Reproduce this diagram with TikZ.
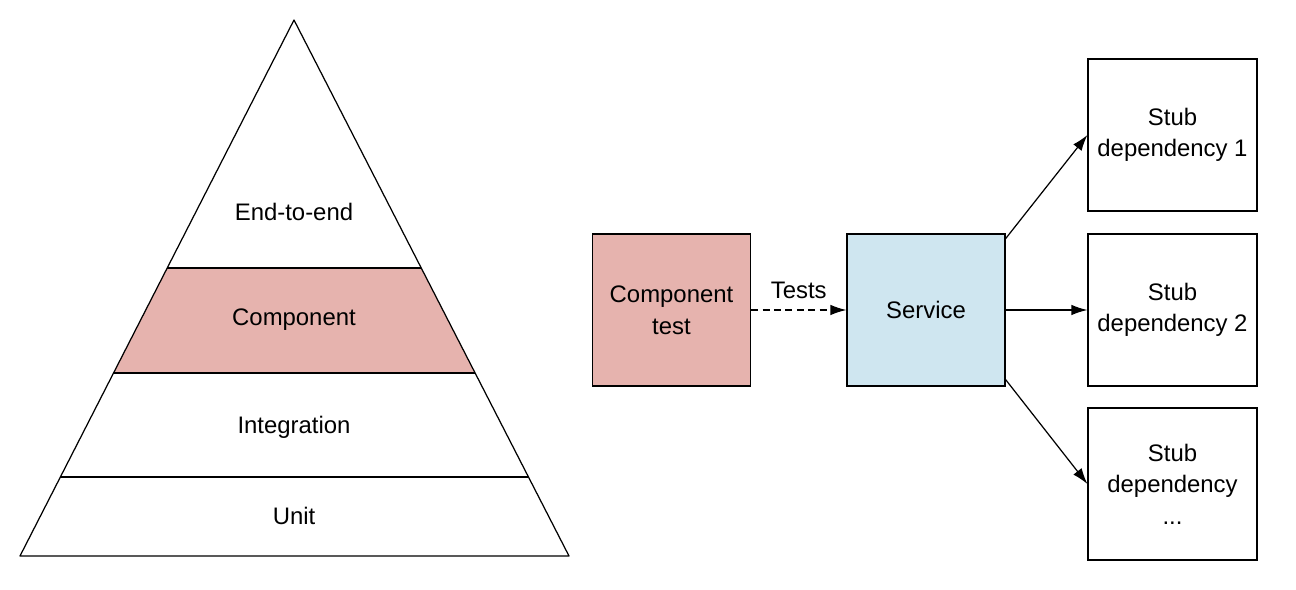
\documentclass[tikz,border=0pt]{standalone}
\usepackage{fontspec}
\setmainfont{Liberation Sans}
\usetikzlibrary{arrows.meta}
\definecolor{comppink}{HTML}{E6B3AE}
\definecolor{svcblue}{HTML}{CFE6F0}
\tikzset{
        x=0.02cm, y=-0.02cm,
        every node/.style={font=\fontsize{13.6}{18}\selectfont, align=center},
        layer/.style={draw=black, line width=0.7pt, line join=round},
        box/.style={draw=black, line width=0.7pt, inner sep=0pt, minimum width=3.16cm, minimum height=3.04cm},
        stubbox/.style={box, minimum width=3.38cm, fill=white},
        link/.style={draw=black, line width=0.7pt, -{Latex[length=3.2mm, width=2.1mm]}},
        testlink/.style={link, dash pattern=on 4pt off 2.5pt}
          }
\begin{document}
\begin{tikzpicture}
      \useasboundingbox (0,0) rectangle (1296,590);
      % pyramid
      \fill[comppink] (167.2,268) -- (421,268) -- (475,373) -- (113.6,373) -- cycle;
      \draw[layer] (294,20) -- (569,556) -- (20,556) -- cycle;
      \draw[layer] (167.2,268) -- (421,268);
      \draw[layer] (113.6,373) -- (475,373);
      \draw[layer] (60.4,477) -- (528.5,477);
      \node (e2e) at (294,212) {End-to-end};
      \node (comp) at (294,320) {Component};
      \node (integ) at (294,427) {Integration};
      \node (unit) at (294,516) {Unit};
      % component test setup
      \node[box, fill=comppink] (ctest) at (671.5,310) {Component\\test};
      \node[box, fill=svcblue] (svc) at (926,310) {Service};
      \node[stubbox] (stub1) at (1172.5,135) {Stub\\dependency 1};
      \node[stubbox] (stub2) at (1172.5,310) {Stub\\dependency 2};
      \node[stubbox] (stub3) at (1172.5,484) {Stub\\dependency\\...};
      \draw[testlink] (ctest.east) -- node[above, yshift=3pt] (tests) {Tests} (svc.west);
      \draw[link] ([yshift=-3pt]svc.north east) -- (stub1.west);
      \draw[link] (svc.east) -- (stub2.west);
      \draw[link] ([yshift=4pt]svc.south east) -- (stub3.west);
    \end{tikzpicture}
\end{document}
